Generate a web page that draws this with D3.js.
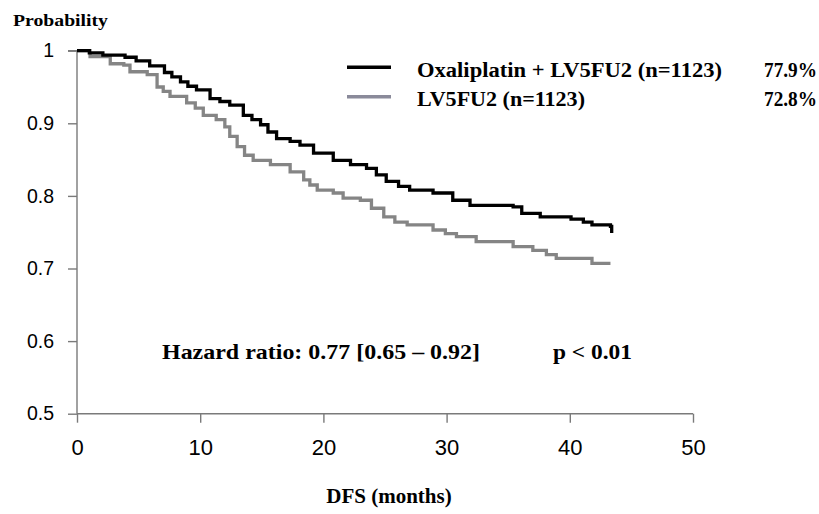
<!DOCTYPE html>
<html>
<head>
<meta charset="utf-8">
<script src="https://cdn.jsdelivr.net/npm/d3@7"></script>
<style>
  body { margin: 0; background: #fff; }
  .serif { font-family: "Liberation Serif", "Times New Roman", serif; font-weight: bold; fill: #000; }
  .ytick text { font-family: "Liberation Sans", Arial, sans-serif; font-size: 19.5px; fill: #000; }
  .xtick text { font-family: "Liberation Sans Narrow", "Liberation Sans", Arial, sans-serif; font-size: 22px; fill: #000; }
</style>
</head>
<body>
<div id="chart"></div>
<script>
// months / DFS probability
let oxaTime = [0, 1.0, 2.1, 3.9, 4.8, 5.9, 7.1, 7.7, 8.4, 9.0, 9.7, 10.8, 11.6, 12.4, 13.5, 14.2, 14.9, 15.5, 16.2, 17.3, 18.1, 19.2, 20.8, 22.2, 23.5, 24.3, 25.1, 26.1, 27.0, 28.9, 30.5, 31.9, 35.4, 36.1, 37.6, 40.1, 41.1, 41.8, 43.3, 43.4]
let oxaProb = [1.0, 0.997, 0.994, 0.991, 0.986, 0.979, 0.970, 0.964, 0.957, 0.951, 0.946, 0.934, 0.930, 0.925, 0.911, 0.905, 0.898, 0.888, 0.879, 0.875, 0.870, 0.859, 0.849, 0.843, 0.838, 0.829, 0.820, 0.813, 0.808, 0.804, 0.794, 0.787, 0.785, 0.776, 0.771, 0.768, 0.764, 0.760, 0.758, 0.749]

let lvTime = [0, 1.06, 2.7, 3.8, 4.3, 5.7, 6.5, 7.0, 7.55, 8.9, 9.6, 10.25, 11.3, 12.0, 12.4, 13.0, 13.6, 14.3, 15.7, 17.3, 18.4, 18.9, 19.5, 20.8, 21.6, 23.0, 23.9, 24.9, 25.8, 26.8, 28.9, 29.9, 30.8, 32.4, 35.4, 37.0, 38.1, 38.9, 41.8, 43.3]
let lvProb = [1.0, 0.992, 0.982, 0.980, 0.971, 0.967, 0.950, 0.944, 0.937, 0.928, 0.921, 0.911, 0.905, 0.895, 0.882, 0.868, 0.856, 0.849, 0.843, 0.833, 0.822, 0.815, 0.808, 0.804, 0.797, 0.794, 0.783, 0.771, 0.764, 0.760, 0.753, 0.748, 0.744, 0.737, 0.730, 0.725, 0.719, 0.714, 0.707, 0.707]

let xTicks = [0, 10, 20, 30, 40, 50]
let yTicks = [0.5, 0.6, 0.7, 0.8, 0.9, 1]

let legendNames = ["Oxaliplatin + LV5FU2 (n=1123)", "LV5FU2 (n=1123)"]
let legendRates = ["77.9%", "72.8%"]

let W = 819, H = 514

let x = d3.scaleLinear().domain([0, 50]).range([77, 693])
let y = d3.scaleLinear().domain([0.5, 1]).range([413.7, 50.7])

let svg = d3.select('#chart').append('svg')
    .attr("width", W)
    .attr("height", H)

// axes
let xAxis = svg.append("g")
    .attr("class", "xtick")
    .attr("transform", "translate(0," + y(0.5) + ")")
    .call(d3.axisBottom(x).tickValues(xTicks).tickSize(9).tickPadding(17).tickFormat(d3.format("d")))

let yAxis = svg.append("g")
    .attr("class", "ytick")
    .attr("transform", "translate(" + x(0) + ",0)")
    .call(d3.axisLeft(y).tickValues(yTicks).tickSize(9).tickPadding(14).tickFormat(d => d == 1 ? "1" : d3.format(".1f")(d)))

for (let g of [xAxis, yAxis]) {
  g.select(".domain").attr("stroke", "#7a7a7a").attr("stroke-width", 1.4)
  g.selectAll(".tick line").attr("stroke", "#7a7a7a").attr("stroke-width", 1.4)
}
yAxis.select(".domain").attr("d", "M-9," + y(1) + "H0V" + y(0.5))
xAxis.select(".domain").attr("d", "M" + x(0) + ",0H" + x(50))

// KM curves
let line = d3.line()
    .x(d => x(d[0]))
    .y(d => y(d[1]))
    .curve(d3.curveStepAfter)

svg.append("path")
    .datum(d3.zip(lvTime, lvProb))
    .attr("fill", "none")
    .attr("stroke", "#858585")
    .attr("stroke-width", 3.3)
    .attr("d", line)

svg.append("path")
    .datum(d3.zip(oxaTime, oxaProb))
    .attr("fill", "none")
    .attr("stroke", "#000")
    .attr("stroke-width", 3.3)
    .attr("d", line)

// legend
let legendColors = ["#000", "#8a8a9a"]
let legendY = [67.3, 96.7]
let legendLen = [305, 168]
legendNames.forEach((name, i) => {
  svg.append("line")
      .attr("x1", 347).attr("x2", 391)
      .attr("y1", legendY[i]).attr("y2", legendY[i])
      .attr("stroke", legendColors[i])
      .attr("stroke-width", 3.5)
  svg.append("text")
      .attr("class", "serif")
      .attr("x", 417).attr("y", legendY[i] + 9.5)
      .attr("font-size", 20.5)
      .attr("textLength", legendLen[i])
      .attr("lengthAdjust", "spacingAndGlyphs")
      .text(name)
  svg.append("text")
      .attr("class", "serif")
      .attr("x", 764).attr("y", legendY[i] + 9.5)
      .attr("font-size", 20.5)
      .attr("textLength", 53)
      .attr("lengthAdjust", "spacingAndGlyphs")
      .text(legendRates[i])
})

// labels
svg.append("text")
    .attr("class", "serif")
    .attr("x", 13).attr("y", 26)
    .attr("font-size", 17)
    .attr("textLength", 95)
    .attr("lengthAdjust", "spacingAndGlyphs")
    .text("Probability")

svg.append("text")
    .attr("class", "serif")
    .attr("x", 162).attr("y", 359)
    .attr("font-size", 21)
    .attr("textLength", 318)
    .attr("lengthAdjust", "spacingAndGlyphs")
    .text("Hazard ratio: 0.77 [0.65 \u2013 0.92]")

svg.append("text")
    .attr("class", "serif")
    .attr("x", 553).attr("y", 359)
    .attr("font-size", 21)
    .attr("textLength", 79)
    .attr("lengthAdjust", "spacingAndGlyphs")
    .text("p < 0.01")

svg.append("text")
    .attr("class", "serif")
    .attr("x", 389).attr("y", 503)
    .attr("text-anchor", "middle")
    .attr("font-size", 21)
    .text("DFS (months)")
</script>
</body>
</html>
